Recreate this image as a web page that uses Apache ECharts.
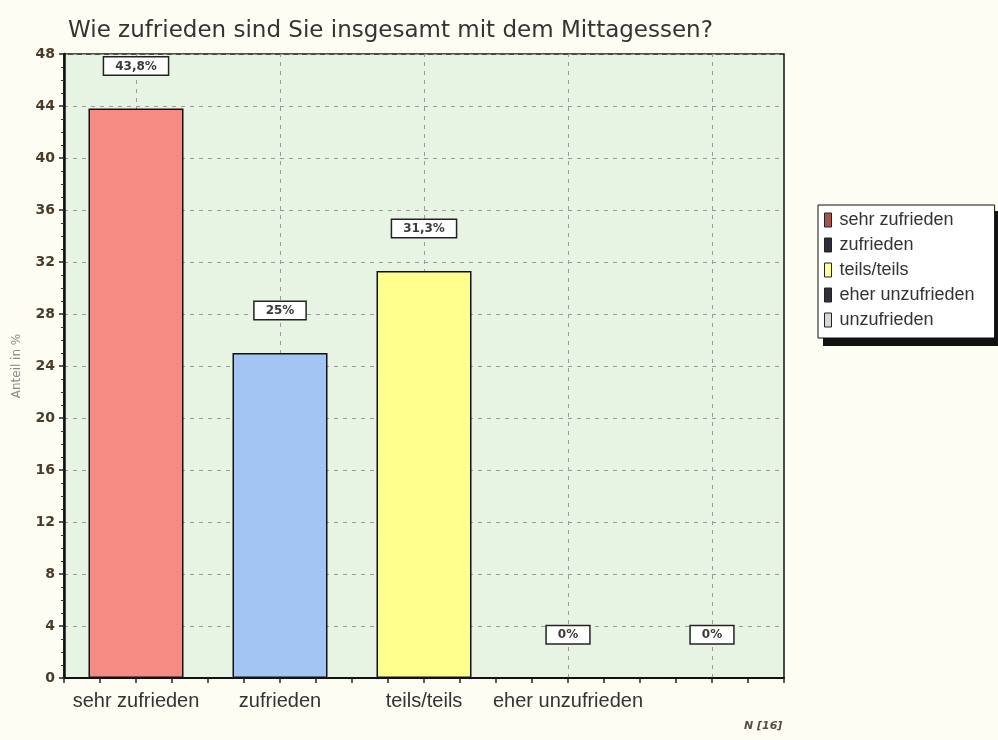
<!DOCTYPE html>
<html>
<head>
<meta charset="utf-8">
<script src="https://cdn.jsdelivr.net/npm/echarts@6/dist/echarts.min.js"></script>
<style>
  html, body { margin: 0; padding: 0; background: #fdfdf4; }
  #chart { width: 998px; height: 740px; }
</style>
</head>
<body>
<div id="chart"></div>
<script>
// Antworten und Anteile in %
const categories = ["sehr zufrieden", "zufrieden", "teils/teils", "eher unzufrieden", "unzufrieden"];
const tickLabels = ["sehr zufrieden", "zufrieden", "teils/teils", "eher unzufrieden", ""];
const shares = [43.8, 25, 31.3, 0, 0];
const barColors = ["#f58b83", "#a2c5f4", "#ffff8e", "#3a3a4a", "#dddddd"];
const legendColors = ["#a3544c", "#2c2c3c", "#ffff96", "#30303c", "#d8d8d0"];

const chart = echarts.init(document.getElementById("chart"));

const pct = (v) => String(v).replace(".", ",") + "%";

// eine Serie pro Kategorie, damit die Legende jede Antwort einzeln zeigt
const barSeries = categories.map((name, i) => ({
  name: name,
  type: "bar",
  z: 3,
  barWidth: 95,
  barGap: "-100%",
  data: shares.map((v, j) => (j === i ? v : "-")),
  itemStyle: { color: barColors[i], borderColor: "#111", borderWidth: 1.5 },
  label: {
    show: true,
    position: "top",
    distance: 34,
    formatter: (p) => pct(p.value),
    color: "#3a3a3a",
    fontFamily: "DejaVu Sans",
    fontSize: 12,
    fontWeight: "bold",
    backgroundColor: "#ffffff",
    borderColor: "#222",
    borderWidth: 1.5,
    padding: [3, 11, 2, 11],
  },
}));

chart.setOption({
  backgroundColor: "#fdfdf4",
  animation: false,
  title: {
    text: "Wie zufrieden sind Sie insgesamt mit dem Mittagessen?",
    left: 63,
    top: 15,
    textStyle: { color: "#333", fontSize: 23, fontWeight: "normal", fontFamily: "DejaVu Sans" },
  },
  legend: {
    orient: "vertical",
    left: 818,
    top: 205,
    data: categories.map((name, i) => ({
      name: name,
      itemStyle: { color: legendColors[i], borderColor: "#222", borderWidth: 1 },
    })),
    icon: "rect",
    itemWidth: 7,
    itemHeight: 14,
    itemGap: 7,
    padding: [6, 20, 9, 6],
    backgroundColor: "#ffffff",
    borderColor: "#111",
    borderWidth: 1,
    textStyle: { color: "#333", fontSize: 18, fontFamily: "Liberation Sans", padding: [0, 0, 0, 3] },
  },
  grid: {
    left: 64,
    top: 54,
    right: 214,
    bottom: 62,
    show: true,
    backgroundColor: "#e8f4e3",
    borderColor: "#111",
    borderWidth: 1.5,
  },
  xAxis: [
    {
      type: "category",
      data: categories,
      axisLine: { lineStyle: { color: "#111", width: 2 } },
      axisTick: { show: false },
      axisLabel: {
        formatter: (v, i) => tickLabels[i],
        color: "#333",
        fontSize: 20,
        fontFamily: "Liberation Sans",
        margin: 13,
        interval: 0,
      },
      splitLine: { show: false },
    },
    {
      type: "value",
      min: 0,
      max: 20,
      interval: 1,
      position: "bottom",
      axisLine: { show: false },
      axisTick: { show: true, length: 5, lineStyle: { color: "#222", width: 1.5 } },
      axisLabel: { show: false },
      splitLine: { show: false },
    },
  ],
  yAxis: {
    type: "value",
    min: 0,
    max: 48,
    interval: 4,
    name: "Anteil in %",
    nameLocation: "middle",
    nameGap: 41,
    nameTextStyle: { color: "#8a8a8a", fontSize: 12, fontFamily: "DejaVu Sans" },
    axisLine: { show: true, lineStyle: { color: "#111", width: 2.5 } },
    axisTick: { show: true, length: 5, lineStyle: { color: "#222", width: 1.5 } },
    minorTick: { show: true, splitNumber: 4, length: 3, lineStyle: { color: "#333" } },
    axisLabel: { color: "#4a3b28", fontSize: 14, fontWeight: "bold", fontFamily: "DejaVu Sans", margin: 9 },
    splitLine: { show: true, lineStyle: { color: "#9a9a9a", type: [4, 5], width: 1 } },
  },
  series: [
    {
      type: "line",
      z: 1,
      data: [],
      silent: true,
      markLine: {
        z: 1,
        silent: true,
        symbol: "none",
        label: { show: false },
        lineStyle: { color: "#9a9a9a", type: [4, 5], width: 1 },
        data: categories.map((c) => ({ xAxis: c })),
      },
    },
    ...barSeries,
  ],
  graphic: [
    // Schatten hinter dem Legendenkasten
    {
      type: "rect",
      z: 0,
      shape: { x: 823, y: 211, width: 180, height: 135 },
      style: { fill: "#111" },
    },
    {
      type: "text",
      left: 744,
      top: 721,
      style: { text: "N [16]", fill: "#5a4a4a", font: "italic bold 11px 'DejaVu Sans'" },
    },
  ],
});
</script>
</body>
</html>
